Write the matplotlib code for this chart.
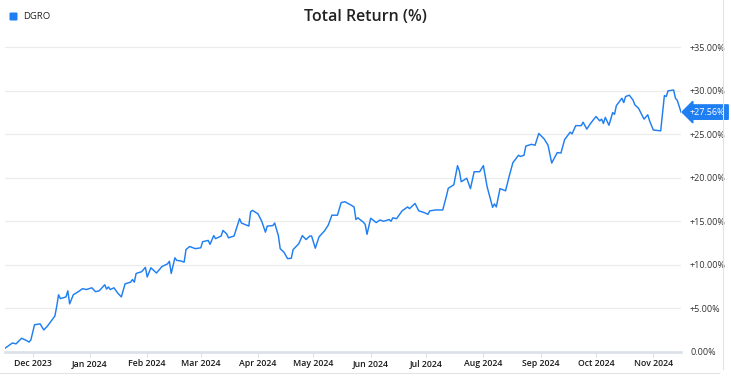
import matplotlib
matplotlib.use('Agg')
import matplotlib.pyplot as plt
import matplotlib.dates as mdates
from matplotlib.lines import Line2D
from matplotlib.patches import FancyBboxPatch
import pandas as pd

# DGRO total return
dates = [
    '2023-11-16', '2023-11-18', '2023-11-20', '2023-11-22', '2023-11-25', '2023-11-28',
    '2023-11-29', '2023-11-30', '2023-12-02', '2023-12-05', '2023-12-07', '2023-12-09',
    '2023-12-13', '2023-12-14', '2023-12-15', '2023-12-16', '2023-12-19', '2023-12-20',
    '2023-12-21', '2023-12-23', '2023-12-26', '2023-12-28', '2023-12-30', '2024-01-02',
    '2024-01-04', '2024-01-06', '2024-01-09', '2024-01-10', '2024-01-11', '2024-01-12',
    '2024-01-14', '2024-01-16', '2024-01-18', '2024-01-20', '2024-01-23', '2024-01-24',
    '2024-01-25', '2024-01-26', '2024-01-29', '2024-01-31', '2024-02-01', '2024-02-03',
    '2024-02-06', '2024-02-09', '2024-02-12', '2024-02-13', '2024-02-14', '2024-02-16',
    '2024-02-17', '2024-02-19', '2024-02-21', '2024-02-22', '2024-02-24', '2024-02-27',
    '2024-03-01', '2024-03-02', '2024-03-05', '2024-03-06', '2024-03-08', '2024-03-09',
    '2024-03-12', '2024-03-13', '2024-03-15', '2024-03-16', '2024-03-19', '2024-03-22',
    '2024-03-23', '2024-03-27', '2024-03-28', '2024-03-29', '2024-04-01', '2024-04-03',
    '2024-04-05', '2024-04-06', '2024-04-09', '2024-04-10', '2024-04-12', '2024-04-13',
    '2024-04-15', '2024-04-17', '2024-04-19', '2024-04-20', '2024-04-23', '2024-04-25',
    '2024-04-27', '2024-04-29', '2024-04-30', '2024-05-02', '2024-05-04', '2024-05-07',
    '2024-05-09', '2024-05-11', '2024-05-14', '2024-05-16', '2024-05-18', '2024-05-21',
    '2024-05-23', '2024-05-24', '2024-05-25', '2024-05-28', '2024-05-29', '2024-05-30',
    '2024-06-01', '2024-06-04', '2024-06-06', '2024-06-08', '2024-06-11', '2024-06-12',
    '2024-06-13', '2024-06-15', '2024-06-18', '2024-06-21', '2024-06-22', '2024-06-25',
    '2024-06-27', '2024-06-30', '2024-07-02', '2024-07-03', '2024-07-06', '2024-07-10',
    '2024-07-12', '2024-07-13', '2024-07-16', '2024-07-18', '2024-07-19', '2024-07-20',
    '2024-07-23', '2024-07-25', '2024-07-27', '2024-07-30', '2024-08-01', '2024-08-03',
    '2024-08-06', '2024-08-07', '2024-08-08', '2024-08-10', '2024-08-12', '2024-08-13',
    '2024-08-15', '2024-08-17', '2024-08-19', '2024-08-20', '2024-08-21', '2024-08-23',
    '2024-08-24', '2024-08-27', '2024-08-29', '2024-08-31', '2024-09-03', '2024-09-05',
    '2024-09-07', '2024-09-10', '2024-09-12', '2024-09-14', '2024-09-17', '2024-09-18',
    '2024-09-20', '2024-09-23', '2024-09-24', '2024-09-26', '2024-09-28', '2024-10-01',
    '2024-10-03', '2024-10-04', '2024-10-05', '2024-10-06', '2024-10-08', '2024-10-10',
    '2024-10-11', '2024-10-12', '2024-10-15', '2024-10-16', '2024-10-17', '2024-10-19',
    '2024-10-21', '2024-10-22', '2024-10-24', '2024-10-27', '2024-10-29', '2024-10-30',
    '2024-11-01', '2024-11-05', '2024-11-07', '2024-11-08', '2024-11-09', '2024-11-12',
    '2024-11-13', '2024-11-14', '2024-11-16',
]
total_return = [
    0.4, 0.7, 1.0, 0.9, 1.55, 1.25,
    1.1, 1.35, 3.1, 3.2, 2.5, 2.95,
    4.1, 5.2, 6.55, 6.1, 6.3, 7.0,
    5.5, 6.55, 6.95, 7.25, 7.15, 7.35,
    6.9, 7.0, 7.7, 7.2, 7.45, 7.15,
    7.35, 6.75, 6.3, 7.8, 8.0, 8.3,
    8.0, 9.0, 9.2, 9.7, 8.6, 9.65,
    9.05, 9.8, 10.1, 10.4, 9.0, 10.8,
    10.5, 10.45, 10.3, 11.75, 12.1, 11.85,
    11.95, 12.65, 12.8, 12.35, 13.35, 13.0,
    13.3, 13.95, 13.55, 13.1, 13.3, 15.3,
    14.8, 14.45, 16.1, 16.25, 15.85, 15.0,
    13.75, 14.45, 14.5, 14.8, 13.35, 11.85,
    11.45, 10.7, 10.75, 11.75, 12.4, 13.35,
    12.9, 13.3, 13.3, 11.9, 13.2, 13.9,
    14.55, 15.7, 15.7, 17.15, 17.25, 16.9,
    16.65, 15.2, 15.4, 14.9, 14.65, 13.5,
    15.35, 14.85, 15.15, 15.0, 15.2, 15.0,
    15.4, 15.3, 16.2, 16.65, 16.45, 17.05,
    16.2, 16.0, 15.8, 16.2, 16.3, 16.3,
    17.9, 18.8, 19.2, 21.4, 20.8, 19.55,
    19.95, 18.75, 20.7, 20.7, 21.4, 19.0,
    16.6, 17.0, 16.65, 18.75, 18.6, 18.5,
    20.2, 21.75, 22.3, 22.6, 22.45, 22.6,
    23.65, 23.85, 23.75, 25.1, 24.45, 23.75,
    21.7, 22.9, 22.85, 24.4, 25.25, 25.05,
    26.0, 26.0, 26.4, 25.6, 26.25, 27.05,
    26.55, 26.75, 26.25, 26.95, 26.05, 27.5,
    27.3, 28.3, 29.15, 28.65, 29.35, 29.5,
    28.95, 28.4, 28.0, 26.75, 27.25, 26.55,
    25.5, 25.4, 29.45, 29.35, 30.0, 30.1,
    29.15, 28.9, 27.56,
]
y_ticks = [0, 5, 10, 15, 20, 25, 30, 35]
ticker = 'DGRO'
title = 'Total Return (%)'

BLUE = '#1f7ff2'
plt.rcParams['font.family'] = ['Open Sans', 'DejaVu Sans']

W, H = 731, 381
fig = plt.figure(figsize=(W / 100, H / 100), dpi=100)

def px(x, y):
    return x / W, 1 - y / H

# plot area in pixels: x 5..681, y 30..351.7
ax = fig.add_axes([5 / W, (H - 351.7) / H, 676 / W, 321.7 / H])
x = pd.to_datetime(dates)
ax.plot(x, total_return, color=BLUE, lw=1.05, solid_joinstyle='round')

ax.set_xlim(pd.Timestamp('2023-11-16'), pd.Timestamp('2024-11-16'))
ax.set_ylim(0, 37)

ax.set_yticks(y_ticks)
ax.set_yticklabels(['0.00%' if v == 0 else f'+{v:.2f}%' for v in y_ticks])
ax.yaxis.tick_right()
ax.tick_params(axis='y', length=0, pad=6.5, labelsize=6.5, labelcolor='#333333')
ax.grid(axis='y', color='#ebebeb', lw=0.8)
ax.set_axisbelow(True)

ax.xaxis.set_major_locator(mdates.MonthLocator(bymonthday=1))
ax.xaxis.set_major_formatter(mdates.DateFormatter('%b %Y'))
ax.tick_params(axis='x', length=3.6, width=0.8, color='#dde2ea', pad=2,
               labelsize=6.3, labelcolor='#1a1a1a')
for lab in ax.get_xticklabels():
    lab.set_fontweight('semibold')

for s in ['top', 'right', 'left']:
    ax.spines[s].set_visible(False)
ax.spines['bottom'].set_color('#dde2ea')
ax.spines['bottom'].set_linewidth(2)

# last value tag
last = total_return[-1]
ax.annotate(f'+{last:.2f}%', xy=(1, last), xycoords=('axes fraction', 'data'),
            xytext=(690 / W, 0), textcoords=('figure fraction', 'offset points'),
            va='center', ha='left', fontsize=6.5, color='white',
            bbox=dict(boxstyle='larrow,pad=0.3', fc=BLUE, ec=BLUE))

# title and legend
fig.text(*px(365, 17), title, ha='center', va='center', fontsize=11.5,
         color='#222222', fontweight='semibold')
fig.patches.append(FancyBboxPatch(px(9.5, 20.5), 8 / W, 8 / H, transform=fig.transFigure,
                                  boxstyle='round,pad=0,rounding_size=0.002',
                                  fc=BLUE, ec='none'))
fig.text(*px(23, 16.5), ticker, ha='left', va='center', fontsize=6.8, color='#222222')

# panel border (right and bottom)
fig.lines.append(Line2D([722.5 / W, 722.5 / W], [1, px(0, 369)[1]],
                        transform=fig.transFigure, color='#e3e3e3', lw=0.8))
fig.lines.append(Line2D([0, 719 / W], [px(0, 372.5)[1]] * 2,
                        transform=fig.transFigure, color='#e3e3e3', lw=0.8))

fig.savefig('out.png', dpi=100)
